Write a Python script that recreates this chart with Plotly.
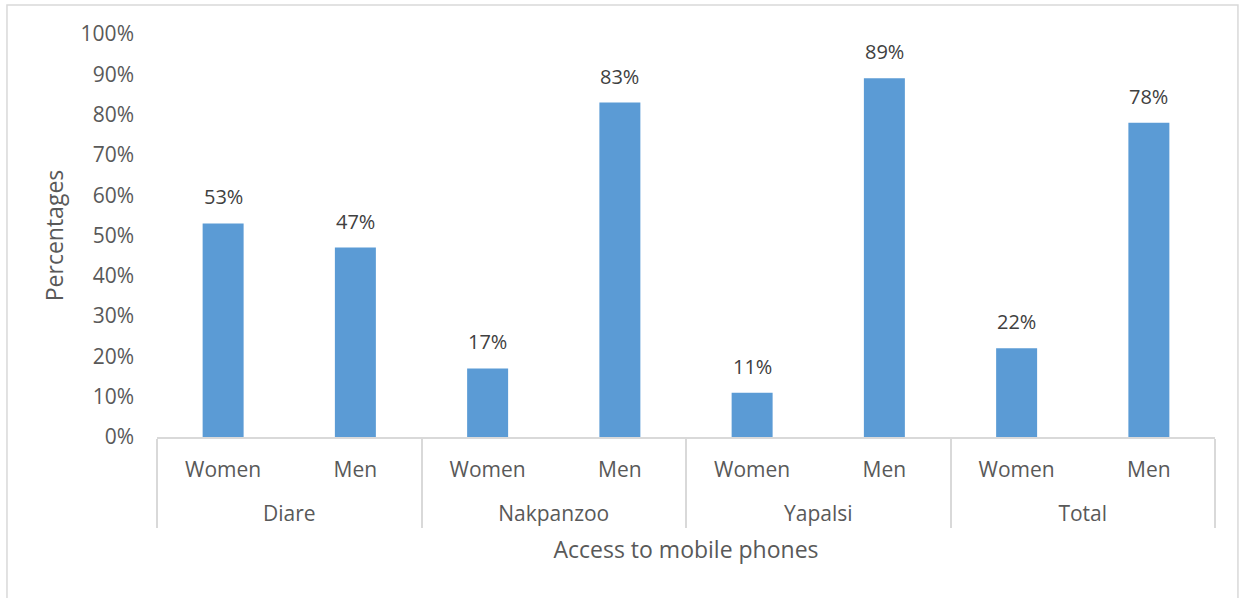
import plotly.graph_objects as go

groups = ["Diare", "Diare", "Nakpanzoo", "Nakpanzoo", "Yapalsi", "Yapalsi", "Total", "Total"]
genders = ["Women", "Men", "Women", "Men", "Women", "Men", "Women", "Men"]
values = [53, 47, 17, 83, 11, 89, 22, 78]
y_ticks = list(range(0, 101, 10))

FONT = "Open Sans"
AXIS_GREY = "#d9d9d9"
TEXT_GREY = "#595959"

# a blank second line under each inner label leaves room before the group labels
inner_labels = [g + "<br> " for g in genders]

fig = go.Figure()
fig.add_trace(go.Bar(
    x=[groups, inner_labels],
    y=values,
    customdata=genders,
    marker=dict(color="#5b9bd5", line=dict(width=0)),
    width=0.31,
    hovertemplate="%{x[0]} %{customdata}: %{y}%<extra></extra>",
))

for i, v in enumerate(values):
    fig.add_annotation(
        x=i, y=v, xref="x", yref="y",
        text=f"{v}%", showarrow=False,
        yanchor="bottom", yshift=11,
        font=dict(family=FONT, size=20, color="#404040"),
    )

fig.update_layout(
    width=1244, height=598,
    margin=dict(l=157, r=29, t=34, b=161, autoexpand=False),
    paper_bgcolor="white", plot_bgcolor="white",
    showlegend=False,
    font=dict(family=FONT, color=TEXT_GREY),
    xaxis=dict(
        type="multicategory",
        showline=True, linecolor=AXIS_GREY, linewidth=1.5,
        showgrid=False, ticks="",
        tickfont=dict(family=FONT, size=21, color=TEXT_GREY),
        ticklabelstandoff=13,
        showdividers=True, dividercolor=AXIS_GREY, dividerwidth=1.5,
        title=dict(text="Access to mobile phones",
                   font=dict(family=FONT, size=23, color=TEXT_GREY), standoff=16),
    ),
    yaxis=dict(
        range=[0, 100], tickvals=y_ticks, ticktext=[f"{v}%" for v in y_ticks],
        showgrid=False, showline=False, zeroline=False, ticks="",
        tickfont=dict(family=FONT, size=21, color=TEXT_GREY),
        ticklabelstandoff=22,
        title=dict(text="Percentages",
                   font=dict(family=FONT, size=23, color=TEXT_GREY), standoff=10),
    ),
)

# outer chart-area frame
fig.add_shape(type="rect", xref="paper", yref="paper",
              x0=-0.1418, x1=1.0217, y0=-0.6, y1=1.072,
              line=dict(color=AXIS_GREY, width=1.5), fillcolor="rgba(0,0,0,0)", layer="below")

fig.write_html("out.html", config=dict(displayModeBar=False),
               post_script="document.body.style.margin='0';")
